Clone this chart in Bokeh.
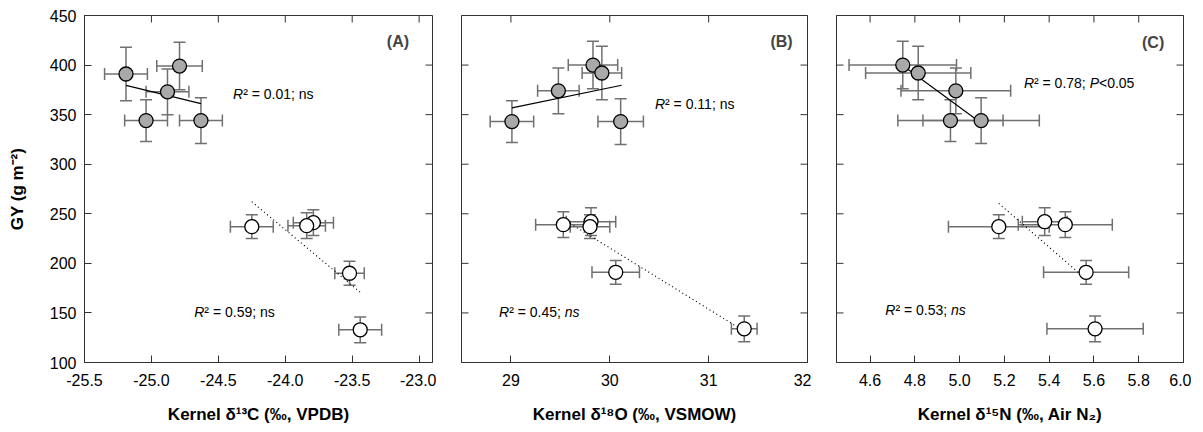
import numpy as np
from bokeh.plotting import figure
from bokeh.models import (ColumnDataSource, Whisker, TeeHead, Label,
                          FixedTicker, NumeralTickFormatter, Range1d)
from bokeh.layouts import row
from bokeh.embed import file_html
from bokeh.resources import INLINE

# ---------------- data ----------------
# Panel A: kernel d13C
a_gray_x = [-25.19, -24.79, -24.88, -25.04, -24.63]
a_gray_y = [391, 399, 373, 344, 344]
a_gray_xerr = [0.16, 0.17, 0.16, 0.16, 0.16]
a_gray_yerr = [27, 24, 23, 21, 23]
a_white_x = [-24.25, -23.79, -23.84, -23.52, -23.44]
a_white_y = [237, 241, 238, 190, 133]
a_white_xerr = [0.16, 0.15, 0.14, 0.11, 0.16]
a_white_yerr = [12, 13, 13, 12, 13]
a_fit_gray_x = [-25.19, -24.63]
a_fit_white_x = [-24.25, -23.44]

# Panel B: kernel d18O
b_gray_x = [29.01, 29.48, 29.83, 29.92, 30.11]
b_gray_y = [343, 374, 400, 392, 343]
b_gray_xerr = [0.22, 0.21, 0.25, 0.20, 0.23]
b_gray_yerr = [21, 23, 24, 27, 23]
b_white_x = [29.53, 29.81, 29.80, 30.06, 31.36]
b_white_y = [239, 242, 237, 191, 134]
b_white_xerr = [0.28, 0.25, 0.20, 0.24, 0.13]
b_white_yerr = [13, 14, 12, 12, 13]
b_fit_gray_x = [29.01, 30.12]
b_fit_white_x = [29.53, 31.36]

# Panel C: kernel d15N
c_gray_x = [4.746, 4.815, 4.983, 4.959, 5.096]
c_gray_y = [400, 392, 374, 344, 344]
c_gray_xerr = [0.24, 0.235, 0.245, 0.235, 0.26]
c_gray_yerr = [24, 27, 23, 21, 23]
c_white_x = [5.175, 5.38, 5.472, 5.565, 5.605]
c_white_y = [237, 242, 239, 191, 134]
c_white_xerr = [0.225, 0.10, 0.21, 0.19, 0.215]
c_white_yerr = [12, 14, 13, 12, 13]
c_fit_gray_x = [4.746, 5.096]
c_fit_white_x = [5.175, 5.565]

y_ticks = [100, 150, 200, 250, 300, 350, 400, 450]
a_ticks = [-25.5, -25.0, -24.5, -24.0, -23.5, -23.0]
b_ticks = [29, 30, 31, 32]
c_ticks = [4.6, 4.8, 5.0, 5.2, 5.4, 5.6, 5.8, 6.0]

y_title = "GY (g m\u207b\u00b2)"
a_title = "Kernel \u03b4\u00b9\u00b3C (\u2030, VPDB)"
b_title = "Kernel \u03b4\u00b9\u2078O (\u2030, VSMOW)"
c_title = "Kernel \u03b4\u00b9\u2075N (\u2030, Air N\u2082)"

# ---------------- style ----------------
FONT = "Liberation Sans"
AX = "#333333"
ERR = "#707070"
GRAY = "#a9a9a9"

W = {'R': 722, '\u00b2': 333, ' ': 278, '=': 584, '.': 278, ';': 278,
     'n': 556, 's': 500, 'P': 667, '<': 584}
for d in "0123456789":
    W[d] = 556


def tw(s, size):
    return sum(W.get(c, 556) for c in s) * size / 1000.0


def rich(p, x, y, parts, size=14):
    off = 0.0
    for txt, italic in parts:
        p.add_layout(Label(x=x, y=y, x_offset=off, text=txt, text_font=FONT,
                           text_font_size=f"{size}px",
                           text_font_style="italic" if italic else "normal",
                           text_baseline="middle", text_color="black"))
        off += tw(txt, size)


def inner_ticks(p, xr, xticks, left):
    # inward tick marks on the top, right (and left) frame edges
    ylo, yhi = 100, 450
    p.scatter(xticks, [yhi] * len(xticks), marker="dash", angle=np.pi / 2, size=14,
              line_color=AX, line_width=1)
    p.scatter([xr[1]] * len(y_ticks), y_ticks, marker="dash", size=14,
              line_color=AX, line_width=1)
    if left:
        p.scatter([xr[0]] * len(y_ticks), y_ticks, marker="dash", size=14,
                  line_color=AX, line_width=1)


def make_panel(xr, xticks, fmt, title, frame_w, bl, br, show_y):
    p = figure(frame_width=frame_w, frame_height=347, x_range=Range1d(*xr),
               y_range=Range1d(100, 450), output_backend="svg", toolbar_location=None,
               min_border_left=bl, min_border_right=br, min_border_top=15,
               min_border_bottom=66, background_fill_color="white",
               border_fill_color="white", outline_line_color=AX, outline_line_width=1)
    p.xgrid.visible = False
    p.ygrid.visible = False
    xa = p.xaxis[0]
    xa.ticker = FixedTicker(ticks=xticks)
    xa.formatter = NumeralTickFormatter(format=fmt)
    xa.major_tick_in = 7
    xa.major_tick_out = 0
    xa.minor_tick_line_color = None
    xa.axis_line_color = AX
    xa.major_tick_line_color = AX
    xa.major_label_standoff = 11
    xa.major_label_text_font = FONT
    xa.major_label_text_font_size = "16px"
    xa.major_label_text_color = "black"
    xa.axis_label = title
    xa.axis_label_text_font = FONT
    xa.axis_label_text_font_size = "17px"
    xa.axis_label_text_font_style = "bold"
    xa.axis_label_text_color = "black"
    xa.axis_label_standoff = 16
    ya = p.yaxis[0]
    if show_y:
        ya.ticker = FixedTicker(ticks=y_ticks)
        ya.major_tick_in = 7
        ya.major_tick_out = 0
        ya.minor_tick_line_color = None
        ya.axis_line_color = AX
        ya.major_tick_line_color = AX
        ya.major_label_standoff = 8
        ya.major_label_text_font = FONT
        ya.major_label_text_font_size = "16px"
        ya.major_label_text_color = "black"
        ya.axis_label = y_title
        ya.axis_label_text_font = FONT
        ya.axis_label_text_font_size = "17px"
        ya.axis_label_text_font_style = "bold"
        ya.axis_label_text_color = "black"
        ya.axis_label_standoff = 20
    else:
        ya.visible = False
    inner_ticks(p, xr, xticks, not show_y)
    return p


def add_series(p, xs, ys, xe, ye, fill, fit_x, dash):
    src = ColumnDataSource(dict(
        x=xs, y=ys,
        xlo=[a - b for a, b in zip(xs, xe)], xhi=[a + b for a, b in zip(xs, xe)],
        ylo=[a - b for a, b in zip(ys, ye)], yhi=[a + b for a, b in zip(ys, ye)]))
    for dim, base, lo, hi in (("width", "y", "xlo", "xhi"), ("height", "x", "ylo", "yhi")):
        w = Whisker(source=src, base=base, lower=lo, upper=hi, dimension=dim,
                    line_color=ERR, line_width=1.5, level="underlay",
                    lower_head=TeeHead(size=12, line_color=ERR, line_width=1.5),
                    upper_head=TeeHead(size=12, line_color=ERR, line_width=1.5))
        p.add_layout(w)
    k, b = np.polyfit(xs, ys, 1)
    fx = np.array(fit_x)
    p.line(fx, k * fx + b, line_color="black", line_width=1.2, line_dash=dash)
    p.scatter("x", "y", source=src, size=14, fill_color=fill, line_color="black",
              line_width=1.3)


pa = make_panel((-25.5, -22.9), a_ticks, "0.0", a_title, 348, 84, 4, True)
add_series(pa, a_gray_x, a_gray_y, a_gray_xerr, a_gray_yerr, GRAY, a_fit_gray_x, "solid")
add_series(pa, a_white_x, a_white_y, a_white_xerr, a_white_yerr, "white", a_fit_white_x, "1 3")
rich(pa, -24.39, 371, [("R", True), ("\u00b2 = 0.01; ns", False)])
rich(pa, -24.68, 151, [("R", True), ("\u00b2 = 0.59; ns", False)])
pa.add_layout(Label(x=-23.075, y=424, text="(A)", text_font=FONT, text_font_size="16px",
                    text_font_style="bold", text_align="right", text_baseline="middle"))

pb = make_panel((28.5, 32.0), b_ticks, "0", b_title, 346, 25, 4, False)
add_series(pb, b_gray_x, b_gray_y, b_gray_xerr, b_gray_yerr, GRAY, b_fit_gray_x, "solid")
add_series(pb, b_white_x, b_white_y, b_white_xerr, b_white_yerr, "white", b_fit_white_x, "1 3")
rich(pb, 30.457, 361, [("R", True), ("\u00b2 = 0.11; ns", False)])
rich(pb, 28.88, 151, [("R", True), ("\u00b2 = 0.45; ", False), ("ns", True)])
pb.add_layout(Label(x=31.85, y=424, text="(B)", text_font=FONT, text_font_size="16px",
                    text_font_style="bold", text_align="right", text_baseline="middle"))

pc = make_panel((4.45, 6.0), c_ticks, "0.0", c_title, 347, 25, 8, False)
add_series(pc, c_gray_x, c_gray_y, c_gray_xerr, c_gray_yerr, GRAY, c_fit_gray_x, "solid")
add_series(pc, c_white_x, c_white_y, c_white_xerr, c_white_yerr, "white", c_fit_white_x, "1 3")
rich(pc, 5.287, 382, [("R", True), ("\u00b2 = 0.78; ", False), ("P", True), ("<0.05", False)])
rich(pc, 4.668, 153, [("R", True), ("\u00b2 = 0.53; ", False), ("ns", True)])
pc.add_layout(Label(x=5.914, y=423, text="(C)", text_font=FONT, text_font_size="16px",
                    text_font_style="bold", text_align="right", text_baseline="middle"))

layout = row(pa, pb, pc, spacing=0)
open("out.html", "w").write(file_html(layout, INLINE))
